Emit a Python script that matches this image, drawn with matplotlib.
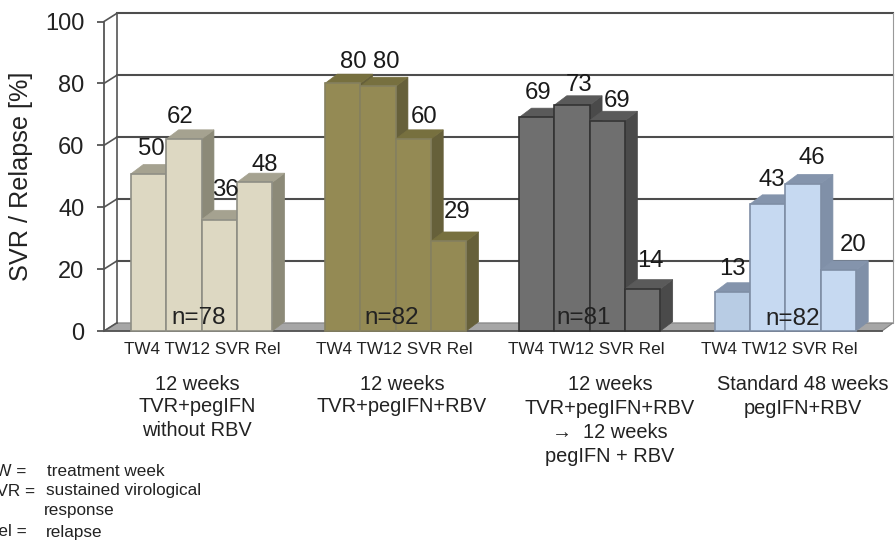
import matplotlib
matplotlib.use('Agg')
import matplotlib.pyplot as plt
from matplotlib.patches import Polygon

plt.rcParams['font.family'] = ['Liberation Sans', 'DejaVu Sans']

W, H = 896, 543

# chart data
bar_names = 'TW4 TW12 SVR Rel'
group_sizes = ['n=78', 'n=82', 'n=81', 'n=82']
group_titles = [
    ['12 weeks', 'TVR+pegIFN', 'without RBV'],
    ['12 weeks', 'TVR+pegIFN+RBV'],
    ['12 weeks', 'TVR+pegIFN+RBV', '→  12 weeks', 'pegIFN + RBV'],
    ['Standard 48 weeks', 'pegIFN+RBV'],
]
# heights as drawn in the picture, they differ a little from the printed labels
bar_heights = [
    [50.8, 62, 36, 48],
    [80, 79, 62, 29],
    [69, 73, 68, 13.6],
    [12.6, 41, 47.6, 19.7],
]
bar_labels = [
    ['50', '62', '36', '48'],
    ['80', '80', '60', '29'],
    ['69', '73', '69', '14'],
    ['13', '43', '46', '20'],
]
yticks = [0, 20, 40, 60, 80, 100]
legend_keys = ['TW =', 'SVR =', '', 'Rel =']
legend_texts = ['treatment week', 'sustained virological', 'response', 'relapse']

# styles
front_cols = [['#DDD8C2'] * 4, ['#948A54'] * 4, ['#6F6F6F'] * 4,
              ['#B8CCE4', '#C6D9F1', '#C6D9F1', '#C6D9F1']]
side_cols = ['#8C8A78', '#66603A', '#4A4A4A', '#8090A8']
top_cols = ['#A5A290', '#77703F', '#5A5A5A', '#8494AC']
edge_cols = ['#8E8E84', '#85805F', '#333333', '#7F8EA5']
group_starts = [0.765, 6.26, 11.76, 17.3]
label_offsets = [
    [(3, 25), (-4, 22), (6, 30), (10, 17)],
    [(11, 21), (8, 24), (11, 22), (9, 29)],
    [(1, 24), (7, 20), (10, 20), (8, 28)],
    [(0, 23), (4, 24), (9, 26), (15, 25)],
]
depth_x, depth_y = 0.35, 3.0
wall_x, wall_y = 0.36, 2.6
xmax = 22.04
xback = 22.35

fig = plt.figure(figsize=(W / 100, H / 100), dpi=100)
ax = fig.add_axes([104 / W, 1 - 331 / H, (882 - 104) / W, (331 - 21.5) / H])
ax.set_xlim(0, xmax)
ax.set_ylim(0, 100)
ax.patch.set_visible(False)
for s in ['top', 'right', 'bottom']:
    ax.spines[s].set_visible(False)
ax.spines['left'].set_color('#555555')
ax.spines['left'].set_linewidth(1.3)
ax.set_xticks([])
ax.set_yticks(yticks)
ax.tick_params(axis='y', length=5, width=1.3, color='#555555', labelsize=17,
               labelcolor='#222222', pad=9)
ax.set_ylabel('SVR / Relapse [%]', fontsize=18.2, color='#222222')
ax.yaxis.set_label_coords((33 - 104) / (882 - 104), 0.5)

# floor and back wall
ax.add_patch(Polygon([(0, 0), (xmax, 0), (xback, wall_y), (wall_x, wall_y)],
                     facecolor='#A6A6A6', edgecolor='#808080', lw=0.8,
                     clip_on=False, zorder=1))
ax.plot([0, xmax], [0, 0], color='#555555', lw=1.3, clip_on=False, zorder=1.5)
for t in yticks:
    ax.plot([0, wall_x], [t, t + wall_y], color='#555555', lw=1.2, clip_on=False, zorder=1.2)
    if t > 0:
        ax.plot([wall_x, xback], [t + wall_y, t + wall_y], color='#4d4d4d', lw=1.5,
                clip_on=False, zorder=1.2)
ax.plot([wall_x, wall_x], [wall_y, 100 + wall_y], color='#555555', lw=1.2, clip_on=False, zorder=1.2)
ax.plot([xback, xback], [wall_y, 100 + wall_y], color='#999999', lw=0.8,
        clip_on=False, zorder=1.2)

# bars
for g, start in enumerate(group_starts):
    for i, h in enumerate(bar_heights[g]):
        x0, x1 = start + i, start + i + 1
        ec = edge_cols[g]
        ax.add_patch(Polygon([(x1, 0), (x1 + depth_x, depth_y), (x1 + depth_x, h + depth_y), (x1, h)],
                             facecolor=side_cols[g], edgecolor=side_cols[g], lw=0.5,
                             clip_on=False, zorder=2))
        ax.add_patch(Polygon([(x0, h), (x0 + depth_x, h + depth_y), (x1 + depth_x, h + depth_y), (x1, h)],
                             facecolor=top_cols[g], edgecolor=top_cols[g], lw=0.5,
                             clip_on=False, zorder=2))
        ax.add_patch(Polygon([(x0, 0), (x1, 0), (x1, h), (x0, h)],
                             facecolor=front_cols[g][i], edgecolor=ec, lw=1.2,
                             clip_on=False, zorder=2))

# value labels
for g, start in enumerate(group_starts):
    for i, h in enumerate(bar_heights[g]):
        ax.annotate(bar_labels[g][i], (start + i + 0.5, h), xytext=label_offsets[g][i],
                    textcoords='offset pixels', ha='center', va='center',
                    fontsize=17.2, color='#1a1a1a', zorder=5, annotation_clip=False)


def put(x, y, s, **kw):
    # place text by pixel position of the reference
    fig.text(x / W, 1 - y / H, s, va='center', color='#222222', **kw)


n_x = [199, 392, 584, 793]
n_y = [318, 318, 318, 319]
for x, y, s in zip(n_x, n_y, group_sizes):
    put(x, y, s, ha='center', fontsize=17.5, zorder=6)

name_x = [202, 394, 586, 779]
for x in name_x:
    put(x, 350, bar_names, ha='center', fontsize=12.3)

title_x = [197, 402, 610, 803]
title_y = [[384, 406, 431], [384, 406], [384, 408, 432, 456], [384, 408]]
for g, lines in enumerate(group_titles):
    for y, s in zip(title_y[g], lines):
        put(title_x[g], y, s, ha='center', fontsize=14.4)

# legend, its left edge is cut off in the source image
legend_y = [471, 491, 511, 532]
key_right = [26, 35, 0, 27]
text_left = [47, 46, 44, 46]
for y, k, kx, s, sx in zip(legend_y, legend_keys, key_right, legend_texts, text_left):
    if k:
        put(kx, y, k, ha='right', fontsize=12.3)
    put(sx, y, s, ha='left', fontsize=12.3)

fig.savefig('out.png', dpi=100)
